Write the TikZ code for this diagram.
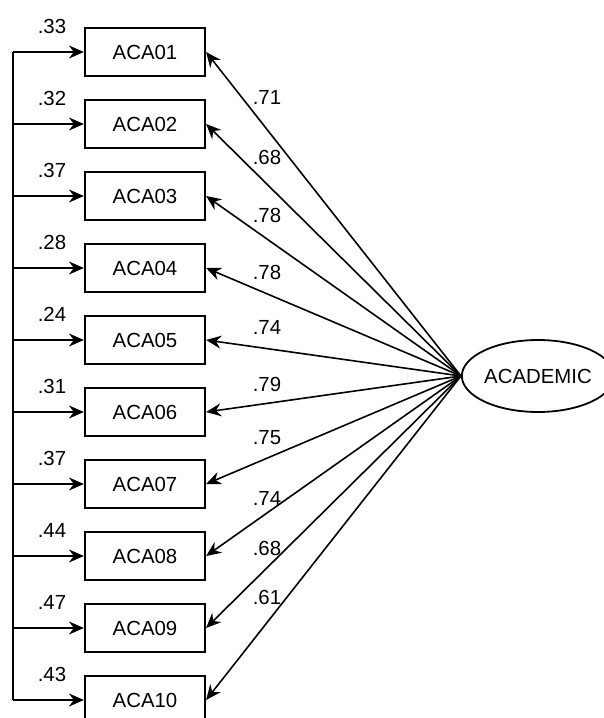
\documentclass[tikz,border=0pt]{standalone}
\usepackage{fontspec}
\setmainfont{Liberation Sans}
\usetikzlibrary{arrows.meta,shapes.geometric}

\tikzset{
  item/.style={draw, line width=1.1pt, minimum width=60pt, minimum height=24pt, inner sep=0pt},
  factor/.style={draw, ellipse, line width=0.9pt, minimum width=70pt, minimum height=36pt, inner sep=0pt},
  path/.style={line width=0.8pt, -{Stealth[length=7.5pt,width=6.5pt,inset=2.5pt]}},
  num/.style={inner sep=0pt}
}

\begin{document}
\begin{tikzpicture}[x=0.5pt,y=-0.5pt]
\fontsize{10.2}{12}\selectfont
\useasboundingbox (0,0) rectangle (604,718);
% latent factor
\node[factor] (acad) at (538,376) {ACADEMIC};
% observed items
\foreach \i in {1,...,9}
  \node[item] (a\i) at (145,{52+72*(\i-1)}) {ACA0\i};
\node[item] (a10) at (145,700) {ACA10};
% error bus on the left
\coordinate (bt) at (13,52);
\coordinate (bb) at (13,700);
\draw[line width=0.8pt] (bt) -- (bb);
\foreach \i/\e in {1/.33,2/.32,3/.37,4/.28,5/.24,6/.31,7/.37,8/.44,9/.47,10/.43}{
  \draw[path] (a\i.west -| bt) -- (a\i.west);
  \node[num] at ([yshift=13pt]a\i.west -| 52,0) {\e};
}
% loadings
\foreach \i/\l/\y in {1/.71/97,2/.68/157,3/.78/215,4/.78/272,5/.74/327,6/.79/384,7/.75/438,8/.74/498,9/.68/548,10/.61/597}{
  \draw[path] (acad.west) -- (a\i.east);
  \node[num] at (267,\y) {\l};
}
\end{tikzpicture}
\end{document}
